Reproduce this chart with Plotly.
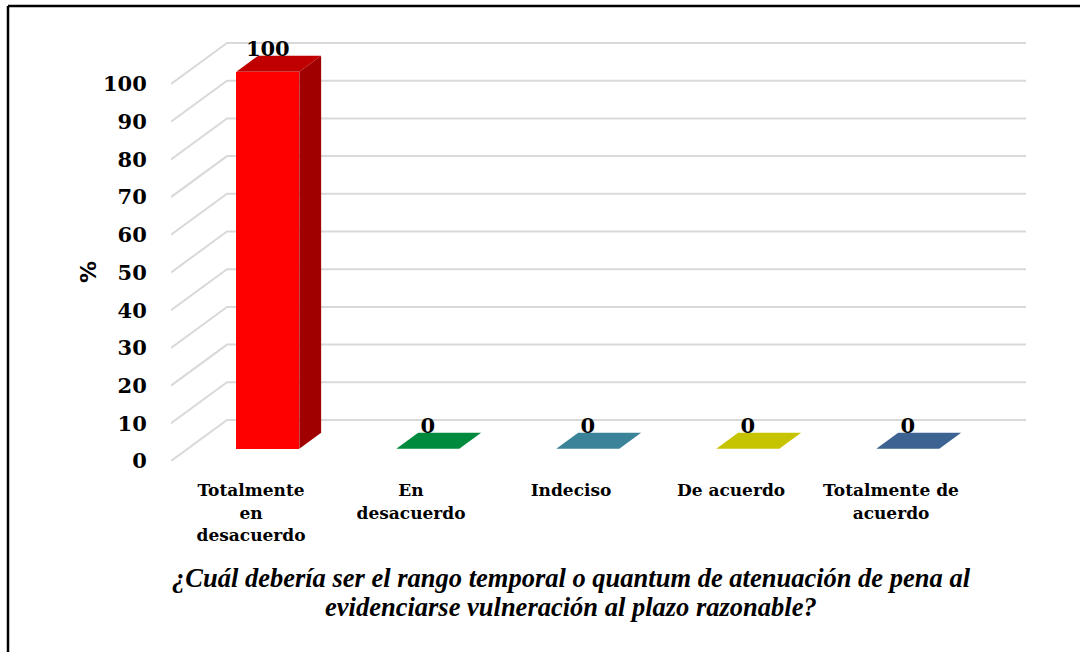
import plotly.graph_objects as go

# Data
categories = ["Totalmente<br>en<br>desacuerdo", "En<br>desacuerdo", "Indeciso",
              "De acuerdo", "Totalmente de<br>acuerdo"]
values = [100, 0, 0, 0, 0]
y_ticks = [0, 10, 20, 30, 40, 50, 60, 70, 80, 90, 100]

front_colors = ["#FF0000", "#008A3E", "#3A8398", "#C6C300", "#3D6392"]
top_colors = ["#C00000", "#008A3E", "#3A8398", "#C6C300", "#3D6392"]
side_colors = ["#A00000", "#006E31", "#2E6979", "#9E9C00", "#314F75"]

title_lines = ["¿Cuál debería ser el rango temporal o quantum de atenuación de pena al",
               "evidenciarse vulneración al plazo razonable?"]

# 3D geometry in data units (x: one unit per category, y: value units)
W, H = 1080, 652
ML, MR, MB, MT = 171, 54, 191, 30
PX_PER_VAL = 3.77
PX_PER_CAT = 160
DEPTH_X = 56 / PX_PER_CAT
DEPTH_Y = 41 / PX_PER_VAL
F_FRONT, F_BACK = 0.30, 0.69
HALF_W = 31.5 / PX_PER_CAT

x_max = (W - ML - MR) / PX_PER_CAT
y_max = (H - MB - MT) / PX_PER_VAL
PW, PH = W - ML - MR, H - MB - MT


def px(x):
    return (x - ML) / PW


def py(y):
    return (H - y - MB) / PH


fig = go.Figure()

# gridlines: diagonal floor-to-wall lines plus back wall lines (kept below the bars)
shapes = []
for v in y_ticks:
    shapes.append(dict(type="path", xref="x", yref="y", layer="below",
                       path=f"M 0,{v} L {DEPTH_X},{v + DEPTH_Y} L {len(categories) + DEPTH_X},{v + DEPTH_Y}",
                       line=dict(color="#D9D9D9", width=2)))

for i, v in enumerate(values):
    c = i + 0.5
    fx0, fx1 = c - HALF_W + F_FRONT * DEPTH_X, c + HALF_W + F_FRONT * DEPTH_X
    bx0, bx1 = c - HALF_W + F_BACK * DEPTH_X, c + HALF_W + F_BACK * DEPTH_X
    fb, bb = F_FRONT * DEPTH_Y, F_BACK * DEPTH_Y
    # front face
    fig.add_trace(go.Bar(x=[(fx0 + fx1) / 2], y=[v], base=fb, width=fx1 - fx0,
                         marker=dict(color=front_colors[i], line=dict(width=0)),
                         showlegend=False, hoverinfo="skip"))
    # side face
    if v > 0:
        fig.add_trace(go.Scatter(x=[fx1, bx1, bx1, fx1, fx1], y=[fb, bb, bb + v, fb + v, fb],
                                 fill="toself", fillcolor=side_colors[i], mode="lines",
                                 line=dict(width=0, color=side_colors[i]),
                                 showlegend=False, hoverinfo="skip"))
    # top face
    fig.add_trace(go.Scatter(x=[fx0, fx1, bx1, bx0, fx0], y=[fb + v, fb + v, bb + v, bb + v, fb + v],
                             fill="toself", fillcolor=top_colors[i], mode="lines",
                             line=dict(width=0, color=top_colors[i]),
                             showlegend=False, hoverinfo="skip"))
    # data label
    fig.add_trace(go.Scatter(x=[(fx0 + fx1) / 2], y=[bb + v - 1.5], mode="text",
                             text=[str(v)], textposition="top center",
                             textfont=dict(family="DejaVu Serif", size=21, color="#000000", weight="bold"),
                             showlegend=False, hoverinfo="skip"))

# chart frame (only the top and left edges are inside the picture)
shapes += [
    dict(type="line", xref="paper", yref="paper", x0=px(8), x1=px(W + 5), y0=py(6), y1=py(6),
         line=dict(color="black", width=2.5)),
    dict(type="line", xref="paper", yref="paper", x0=px(8), x1=px(8), y0=py(6), y1=py(H + 10),
         line=dict(color="black", width=2.5)),
]

annotations = [
    dict(text="<b>%</b>", xref="paper", yref="paper", x=px(88), y=py(272), textangle=-90,
         xanchor="center", yanchor="middle", showarrow=False,
         font=dict(family="DejaVu Sans", size=22, color="#000000")),
]
for line, yc in zip(title_lines, [578, 607]):
    annotations.append(dict(text=f"<b><i>{line}</i></b>", xref="paper", yref="paper",
                            x=px(571), y=py(yc), xanchor="center", yanchor="middle",
                            showarrow=False,
                            font=dict(family="Liberation Serif", size=26.5, color="#000000")))

fig.update_layout(
    width=W, height=H,
    margin=dict(l=ML, r=MR, t=MT, b=MB),
    paper_bgcolor="white", plot_bgcolor="white",
    bargap=0, barmode="overlay",
    font=dict(family="DejaVu Serif", color="#000000"),
    xaxis=dict(range=[0, x_max], tickvals=[i + 0.5 for i in range(len(categories))],
               ticktext=[f"<b>{c}</b>" for c in categories], showgrid=False, zeroline=False,
               showline=False, ticks="outside", ticklen=14, tickcolor="white",
               tickfont=dict(size=17, family="DejaVu Serif")),
    yaxis=dict(range=[0, y_max], tickvals=y_ticks, ticktext=[f"<b>{t}</b>" for t in y_ticks],
               showgrid=False, zeroline=False, showline=False, ticks="outside", ticklen=19,
               tickcolor="white", tickfont=dict(size=21, family="DejaVu Serif")),
    shapes=shapes,
    annotations=annotations,
)

fig.write_html("out.html", config={"displayModeBar": False},
               post_script="document.body.style.margin='0';")
